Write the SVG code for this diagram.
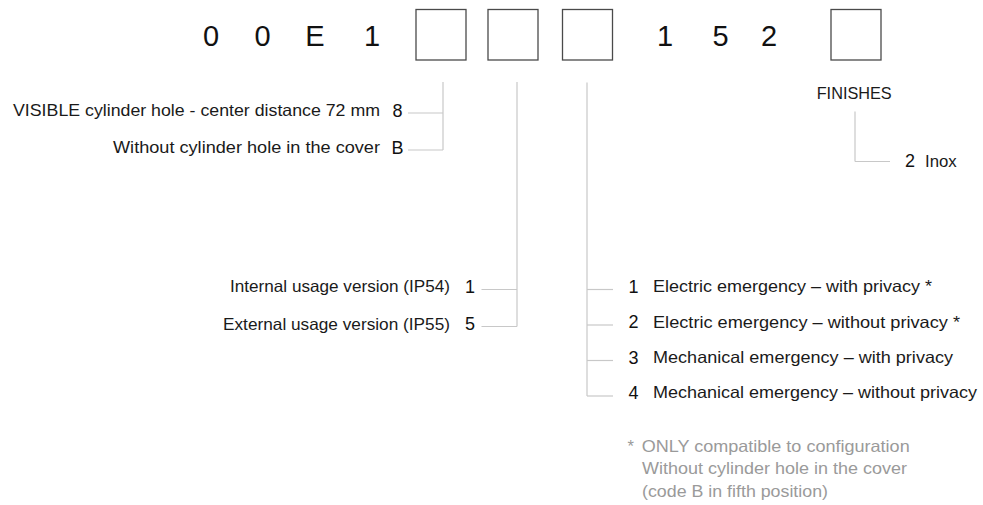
<svg xmlns="http://www.w3.org/2000/svg" width="983" height="505" viewBox="0 0 983 505">
<style>
text{font-family:"Liberation Sans",Arial,sans-serif;fill:#1a1a1a}
.code{font-size:29px;text-anchor:middle;fill:#111}
.box{fill:#fff;stroke:#4a4a4a;stroke-width:1.3}
.lbl{font-size:16.5px}
.end{text-anchor:end}
.dig{font-size:18px;text-anchor:middle;fill:#111}
.note{font-size:16.5px;fill:#9a9a9a}
.conn line{stroke:#c8c8c8;stroke-width:1.2}
</style>
<rect width="983" height="505" fill="#fff"/>
<g id="code">
<text class="code" x="211" y="46">0</text>
<text class="code" x="262.5" y="46">0</text>
<text class="code" x="315" y="46">E</text>
<text class="code" x="372" y="46">1</text>
<rect id="pos5" class="box" x="416" y="9.5" width="50" height="50.5"/>
<rect id="pos6" class="box" x="488" y="9.5" width="50" height="50.5"/>
<rect id="pos7" class="box" x="562.5" y="9.5" width="50" height="50.5"/>
<text class="code" x="665" y="46">1</text>
<text class="code" x="720.5" y="46">5</text>
<text class="code" x="769" y="46">2</text>
<rect id="pos11" class="box" x="831" y="9.5" width="50" height="50.5"/>
</g>
<g class="conn" id="connectors">
<line x1="443" y1="82" x2="443" y2="150"/>
<line x1="408" y1="113" x2="443" y2="113"/>
<line x1="408" y1="150" x2="443" y2="150"/>
<line x1="517" y1="82" x2="517" y2="326.5"/>
<line x1="481.5" y1="289.5" x2="517" y2="289.5"/>
<line x1="481.5" y1="326.5" x2="517" y2="326.5"/>
<line x1="587" y1="82.5" x2="587" y2="396"/>
<line x1="587" y1="289.5" x2="613" y2="289.5"/>
<line x1="587" y1="325" x2="613" y2="325"/>
<line x1="587" y1="360.5" x2="613" y2="360.5"/>
<line x1="587" y1="396" x2="613" y2="396"/>
<line x1="855" y1="111.5" x2="855" y2="161.5"/>
<line x1="855" y1="161.5" x2="890" y2="161.5"/>
</g>
<g id="opt-8">
<text class="lbl end" x="380" y="116" textLength="367" lengthAdjust="spacingAndGlyphs">VISIBLE cylinder hole - center distance 72 mm</text>
<text class="dig" x="397.5" y="116.5">8</text>
</g>
<g id="opt-B">
<text class="lbl end" x="380" y="153" textLength="267" lengthAdjust="spacingAndGlyphs">Without cylinder hole in the cover</text>
<text class="dig" x="397.5" y="153.5">B</text>
</g>
<g id="opt-int">
<text class="lbl end" x="450" y="292" textLength="220" lengthAdjust="spacingAndGlyphs">Internal usage version (IP54)</text>
<text class="dig" x="470" y="292.5">1</text>
</g>
<g id="opt-ext">
<text class="lbl end" x="450" y="329.5" textLength="227" lengthAdjust="spacingAndGlyphs">External usage version (IP55)</text>
<text class="dig" x="470" y="330">5</text>
</g>
<g id="opt-e1">
<text class="dig" x="633.5" y="292.5">1</text>
<text class="lbl" x="653" y="292" textLength="279" lengthAdjust="spacingAndGlyphs">Electric emergency – with privacy *</text>
</g>
<g id="opt-e2">
<text class="dig" x="633.5" y="328">2</text>
<text class="lbl" x="653" y="327.5" textLength="307" lengthAdjust="spacingAndGlyphs">Electric emergency – without privacy *</text>
</g>
<g id="opt-e3">
<text class="dig" x="633.5" y="363.5">3</text>
<text class="lbl" x="653" y="363" textLength="300" lengthAdjust="spacingAndGlyphs">Mechanical emergency – with privacy</text>
</g>
<g id="opt-e4">
<text class="dig" x="633.5" y="398.5">4</text>
<text class="lbl" x="653" y="398" textLength="324" lengthAdjust="spacingAndGlyphs">Mechanical emergency – without privacy</text>
</g>
<g id="finishes">
<text class="lbl" x="816.7" y="98.5" textLength="75" lengthAdjust="spacingAndGlyphs">FINISHES</text>
</g>
<g id="opt-inox">
<text class="dig" x="910" y="167">2</text>
<text class="lbl" x="925" y="166.5" textLength="31.7" lengthAdjust="spacingAndGlyphs">Inox</text>
</g>
<g id="footnote">
<text class="note" x="627.5" y="452">*</text>
<text class="note" x="641.7" y="452" textLength="268" lengthAdjust="spacingAndGlyphs">ONLY compatible to configuration</text>
<text class="note" x="642" y="474.3" textLength="265" lengthAdjust="spacingAndGlyphs">Without cylinder hole in the cover</text>
<text class="note" x="642" y="496.5" textLength="186" lengthAdjust="spacingAndGlyphs">(code B in fifth position)</text>
</g>
</svg>
